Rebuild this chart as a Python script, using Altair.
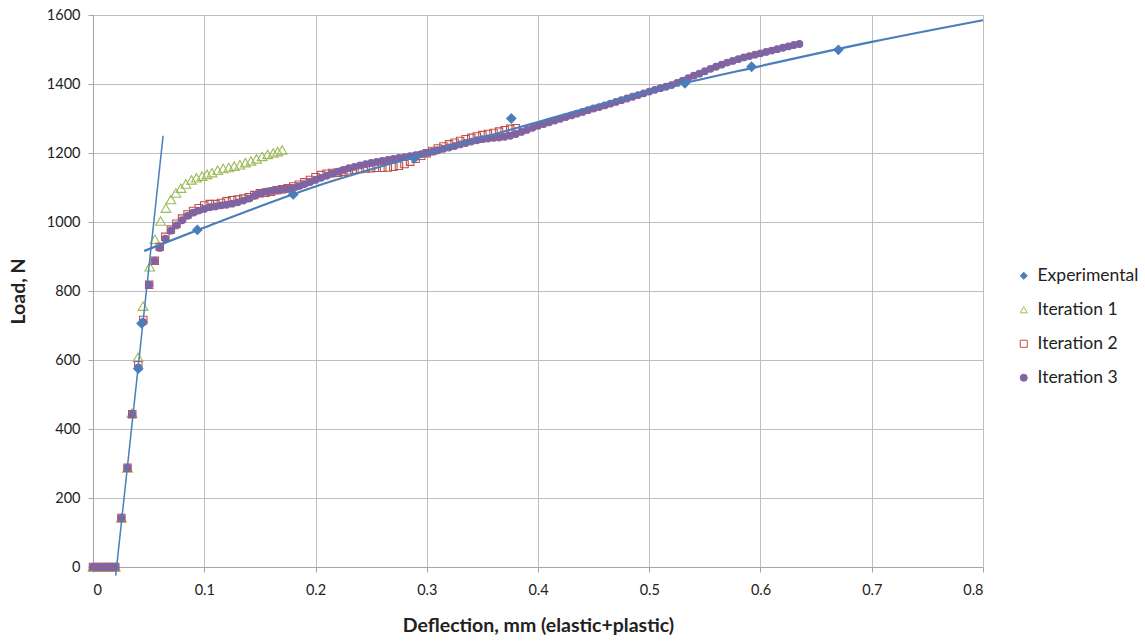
import altair as alt
import pandas as pd

# Load-deflection data (deflection in mm, load in N)
exp_x = [0.0407, 0.0437, 0.0938, 0.180, 0.289, 0.376, 0.532, 0.592, 0.670]
exp_y = [575, 706, 977, 1080, 1185, 1300, 1402, 1450, 1499]

it1_x = [0.0, 0.005, 0.010, 0.015, 0.020, 0.0255, 0.031, 0.035, 0.0405, 0.045,
         0.051, 0.0557, 0.0608, 0.0655, 0.070, 0.0745, 0.079, 0.0835, 0.0885,
         0.093, 0.098, 0.1025, 0.107, 0.112, 0.117, 0.122, 0.127, 0.132, 0.137,
         0.142, 0.147, 0.152, 0.157, 0.162, 0.166, 0.170]
it1_y = [0, 0, 0, 0, 0, 142, 287, 446, 608, 756,
         870, 950, 1003, 1040, 1065, 1084, 1098, 1110, 1122,
         1128, 1133, 1138, 1143, 1150, 1155, 1158, 1162, 1166, 1172,
         1177, 1183, 1190, 1196, 1200, 1204, 1209]

it2_x = [0.0, 0.005, 0.010, 0.015, 0.020, 0.0255, 0.031, 0.0353, 0.0407, 0.0452,
         0.0505, 0.0555, 0.060, 0.065, 0.070, 0.075, 0.080, 0.085, 0.090, 0.095,
         0.100, 0.105, 0.110, 0.115, 0.120, 0.125, 0.130, 0.135, 0.140, 0.145,
         0.150, 0.155, 0.160, 0.165, 0.170, 0.175, 0.180, 0.185, 0.190, 0.195,
         0.200, 0.205, 0.210, 0.215, 0.220, 0.225, 0.230, 0.235, 0.240, 0.245,
         0.250, 0.255, 0.260, 0.265, 0.270, 0.275, 0.280, 0.285, 0.290, 0.295,
         0.300, 0.305, 0.310, 0.315, 0.320, 0.325, 0.330, 0.335, 0.340, 0.345,
         0.350, 0.355, 0.360, 0.365, 0.370, 0.375, 0.380]
it2_y = [0, 0, 0, 0, 0, 142, 288, 443, 585, 716,
         818, 888, 928, 957, 978, 995, 1010, 1022, 1032, 1040,
         1048, 1052, 1052, 1055, 1060, 1063, 1065, 1068, 1072, 1078,
         1083, 1085, 1088, 1092, 1095, 1098, 1103, 1108, 1115, 1122,
         1130, 1136, 1140, 1142, 1143, 1146, 1150, 1152, 1154, 1155,
         1156, 1157, 1157, 1158, 1160, 1163, 1168, 1175, 1183, 1192,
         1199, 1206, 1213, 1219, 1225, 1230, 1235, 1240, 1244, 1248,
         1252, 1255, 1258, 1262, 1266, 1270, 1272]

it3_x = [0.0, 0.005, 0.010, 0.015, 0.020, 0.0255, 0.031, 0.0353, 0.0407, 0.0452,
         0.0505, 0.0555, 0.060, 0.065, 0.070, 0.075, 0.080, 0.085, 0.090, 0.095,
         0.100, 0.105, 0.110, 0.115, 0.120, 0.125, 0.130, 0.135, 0.140, 0.145,
         0.150, 0.155, 0.160, 0.165, 0.170, 0.175, 0.180, 0.185, 0.190, 0.195,
         0.200, 0.205, 0.210, 0.215, 0.220, 0.225, 0.230, 0.235, 0.240, 0.245,
         0.250, 0.255, 0.260, 0.265, 0.270, 0.275, 0.280, 0.285, 0.290, 0.295,
         0.300, 0.305, 0.310, 0.315, 0.320, 0.325, 0.330, 0.335, 0.340, 0.345,
         0.350, 0.355, 0.360, 0.365, 0.370, 0.375, 0.380, 0.385, 0.390, 0.395,
         0.400, 0.405, 0.410, 0.415, 0.420, 0.425, 0.430, 0.435, 0.440, 0.445,
         0.450, 0.455, 0.460, 0.465, 0.470, 0.475, 0.480, 0.485, 0.490, 0.495,
         0.500, 0.505, 0.510, 0.515, 0.520, 0.525, 0.530, 0.535, 0.540, 0.545,
         0.550, 0.555, 0.560, 0.565, 0.570, 0.575, 0.580, 0.585, 0.590, 0.595,
         0.600, 0.605, 0.610, 0.615, 0.620, 0.625, 0.630, 0.635]
it3_y = [0, 0, 0, 0, 0, 142, 288, 443, 578, 710,
         818, 888, 925, 952, 975, 990, 1005, 1018, 1027, 1033,
         1038, 1043, 1045, 1048, 1050, 1053, 1057, 1062, 1068, 1076,
         1083, 1088, 1090, 1092, 1094, 1096, 1099, 1104, 1110, 1116,
         1122, 1128, 1134, 1140, 1146, 1151, 1156, 1160, 1164, 1168,
         1171, 1174, 1177, 1180, 1183, 1186, 1188, 1191, 1194, 1197,
         1200, 1204, 1208, 1212, 1216, 1220, 1225, 1229, 1233, 1237,
         1240, 1242, 1244, 1245, 1247, 1250, 1255, 1261, 1267, 1273,
         1279, 1284, 1289, 1294, 1299, 1304, 1309, 1314, 1319, 1324,
         1329, 1333, 1338, 1343, 1348, 1353, 1358, 1363, 1368, 1373,
         1378, 1383, 1388, 1392, 1397, 1403, 1410, 1417, 1424, 1430,
         1437, 1444, 1450, 1456, 1462, 1467, 1472, 1477, 1481, 1485,
         1489, 1493, 1497, 1501, 1505, 1509, 1513, 1516]

# Trend lines fitted to the experimental points
elastic_x = [0.0204, 0.063]
elastic_y = [-25, 1250]
plastic_x = [0.046, 0.1, 0.2, 0.3, 0.4, 0.5, 0.6, 0.7, 0.8]
plastic_y = [916, 984, 1103, 1199, 1290, 1378, 1452, 1522, 1585]

series_names = ["Experimental", "Iteration 1", "Iteration 2", "Iteration 3"]
series_shapes = ["diamond", "triangle-up", "square", "circle"]
series_strokes = ["#4A7EBB", "#9BBB59", "#C0504D", "#8064A2"]
series_fills = ["#4A7EBB", "transparent", "transparent", "#8064A2"]

x_ticks = [0, 0.1, 0.2, 0.3, 0.4, 0.5, 0.6, 0.7, 0.8]
y_ticks = [0, 200, 400, 600, 800, 1000, 1200, 1400, 1600]

FONT = "Lato"

frames = []
for name, xs, ys in [("Experimental", exp_x, exp_y), ("Iteration 1", it1_x, it1_y),
                     ("Iteration 2", it2_x, it2_y), ("Iteration 3", it3_x, it3_y)]:
    frames.append(pd.DataFrame({"x": xs, "y": ys, "series": name}))
points = pd.concat(frames, ignore_index=True)

elastic = pd.DataFrame({"x": elastic_x, "y": elastic_y})
plastic = pd.DataFrame({"x": plastic_x, "y": plastic_y})

x_enc = alt.X("x:Q", scale=alt.Scale(domain=[0, 0.8], nice=False),
              axis=alt.Axis(values=x_ticks, format="~g",
                            title="Deflection, mm (elastic+plastic)"))
y_enc = alt.Y("y:Q", scale=alt.Scale(domain=[0, 1600], nice=False),
              axis=alt.Axis(values=y_ticks, format="d", title="Load, N"))

legend = alt.Legend(title=None, orient="none", legendX=922, legendY=252,
                    labelFontSize=17.5, labelFont=FONT, labelColor="#222222",
                    symbolSize=50, rowPadding=15, labelOffset=5,
                    symbolStrokeWidth=1)

shape_enc = alt.Shape("series:N", scale=alt.Scale(domain=series_names, range=series_shapes),
                      legend=legend)
stroke_enc = alt.Stroke("series:N", scale=alt.Scale(domain=series_names, range=series_strokes),
                        legend=legend)
fill_enc = alt.Fill("series:N", scale=alt.Scale(domain=series_names, range=series_fills),
                    legend=legend)

sizes = {"Experimental": 85, "Iteration 1": 95, "Iteration 2": 55, "Iteration 3": 45}
order = ["Iteration 1", "Iteration 2", "Iteration 3", "Experimental"]

layers = []
for name in order:
    layers.append(
        alt.Chart(points).transform_filter(alt.datum.series == name)
        .mark_point(size=sizes[name], opacity=1, strokeWidth=1.1)
        .encode(x=x_enc, y=y_enc, shape=shape_enc, stroke=stroke_enc, fill=fill_enc)
    )

elastic_line = alt.Chart(elastic).mark_line(color="#4A7EBB", strokeWidth=1.5, clip=False).encode(
    x=x_enc, y=y_enc)
plastic_line = alt.Chart(plastic).mark_line(color="#4A7EBB", strokeWidth=2.2,
                                            interpolate="monotone").encode(x=x_enc, y=y_enc)

chart = alt.layer(*layers, elastic_line, plastic_line).properties(
    width=890, height=552,
    autosize=alt.AutoSizeParams(type="none"),
    padding={"left": 93, "top": 15, "right": 162, "bottom": 75},
).configure_view(stroke=None).configure_axis(
    labelFont=FONT, titleFont=FONT, labelFontSize=14.5, titleFontSize=19.5,
    labelColor="#222222", titleColor="#222222", titleFontWeight="bold",
    gridColor="#BFBFBF", gridWidth=1, domainColor="#A6A6A6", tickColor="#A6A6A6",
    tickSize=5,
).configure_axisX(
    labelPadding=11, titlePadding=20,
).configure_axisY(
    labelPadding=8, titlePadding=18,
)

chart.save("out.html", embed_options={"renderer": "svg", "actions": False})
